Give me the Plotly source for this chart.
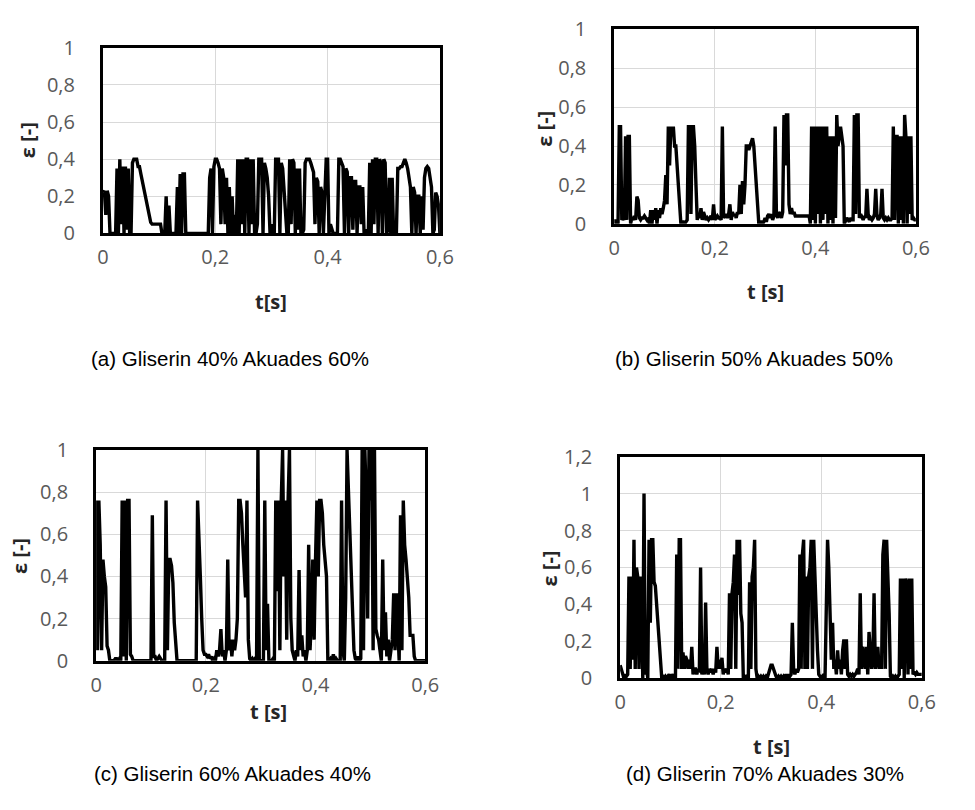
import plotly.graph_objects as go

# ---------------- data (sampling step 0.0025 s, t = 0 ... 0.6 s) ----------------
DT = 0.0025

eps_a = [
    0.22, 0.23, 0.10, 0.23, 0.20, 0.0, 0.0, 0.0, 0.0, 0.0,
    0.35, 0.0, 0.40, 0.05, 0.36, 0.0, 0.36, 0.02, 0.35, 0.0,
    0.0, 0.38, 0.40, 0.40, 0.40, 0.36, 0.36, 0.32, 0.28, 0.24,
    0.20, 0.16, 0.12, 0.09, 0.06, 0.05, 0.05, 0.05, 0.05, 0.05,
    0.05, 0.05, 0.0, 0.0, 0.0, 0.20, 0.0, 0.15, 0.0, 0.0,
    0.0, 0.0, 0.0, 0.25, 0.0, 0.32, 0.0, 0.32, 0.32, 0.0,
    0.0, 0.0, 0.0, 0.0, 0.0, 0.0, 0.0, 0.0, 0.0, 0.0,
    0.0, 0.0, 0.0, 0.0, 0.0, 0.0, 0.30, 0.35, 0.0, 0.36,
    0.40, 0.40, 0.38, 0.35, 0.05, 0.35, 0.30, 0.05, 0.30, 0.0,
    0.25, 0.0, 0.20, 0.0, 0.10, 0.0, 0.40, 0.0, 0.40, 0.05,
    0.40, 0.0, 0.40, 0.40, 0.0, 0.40, 0.05, 0.40, 0.0, 0.0,
    0.05, 0.40, 0.40, 0.40, 0.0, 0.38, 0.35, 0.30, 0.20, 0.0,
    0.0, 0.05, 0.0, 0.40, 0.40, 0.40, 0.0, 0.38, 0.35, 0.25,
    0.10, 0.0, 0.0, 0.40, 0.05, 0.40, 0.38, 0.0, 0.35, 0.02,
    0.35, 0.0, 0.0, 0.02, 0.38, 0.40, 0.40, 0.40, 0.38, 0.36,
    0.33, 0.05, 0.30, 0.28, 0.0, 0.25, 0.22, 0.0, 0.20, 0.40,
    0.40, 0.0, 0.05, 0.02, 0.0, 0.0, 0.0, 0.0, 0.40, 0.40,
    0.38, 0.36, 0.0, 0.35, 0.33, 0.0, 0.30, 0.30, 0.02, 0.28,
    0.28, 0.0, 0.25, 0.25, 0.05, 0.25, 0.0, 0.02, 0.0, 0.0,
    0.38, 0.0, 0.40, 0.05, 0.40, 0.40, 0.0, 0.40, 0.38, 0.0,
    0.40, 0.38, 0.0, 0.02, 0.30, 0.0, 0.30, 0.0, 0.05, 0.0,
    0.35, 0.35, 0.36, 0.36, 0.38, 0.40, 0.38, 0.35, 0.30, 0.25,
    0.0, 0.25, 0.22, 0.0, 0.20, 0.20, 0.0, 0.20, 0.02, 0.30,
    0.35, 0.36, 0.35, 0.30, 0.25, 0.0, 0.02, 0.22, 0.20, 0.15,
    0.0,
]

eps_b = [
    0.0, 0.02, 0.01, 0.0, 0.50, 0.50, 0.02, 0.03, 0.02, 0.45,
    0.02, 0.45, 0.45, 0.0, 0.03, 0.02, 0.04, 0.02, 0.14, 0.12,
    0.03, 0.02, 0.03, 0.03, 0.04, 0.03, 0.02, 0.03, 0.0, 0.07,
    0.0, 0.07, 0.02, 0.08, 0.0, 0.07, 0.03, 0.08, 0.05, 0.08,
    0.12, 0.25, 0.10, 0.50, 0.30, 0.50, 0.45, 0.50, 0.40, 0.40,
    0.30, 0.20, 0.10, 0.0, 0.01, 0.01, 0.0, 0.01, 0.02, 0.50,
    0.50, 0.05, 0.50, 0.50, 0.40, 0.20, 0.02, 0.05, 0.03, 0.08,
    0.02, 0.06, 0.03, 0.02, 0.03, 0.02, 0.03, 0.04, 0.02, 0.10,
    0.02, 0.03, 0.04, 0.03, 0.03, 0.02, 0.50, 0.03, 0.04, 0.05,
    0.03, 0.05, 0.10, 0.02, 0.06, 0.04, 0.05, 0.03, 0.06, 0.05,
    0.20, 0.05, 0.22, 0.10, 0.20, 0.40, 0.40, 0.38, 0.40, 0.42,
    0.44, 0.40, 0.30, 0.15, 0.05, 0.0, 0.01, 0.01, 0.0, 0.01,
    0.03, 0.01, 0.04, 0.05, 0.03, 0.05, 0.02, 0.04, 0.50, 0.05,
    0.03, 0.06, 0.05, 0.03, 0.06, 0.56, 0.30, 0.56, 0.56, 0.10,
    0.05, 0.08, 0.05, 0.06, 0.04, 0.04, 0.04, 0.04, 0.04, 0.04,
    0.04, 0.04, 0.04, 0.04, 0.04, 0.04, 0.0, 0.50, 0.02, 0.50,
    0.0, 0.50, 0.05, 0.50, 0.0, 0.50, 0.02, 0.50, 0.05, 0.50,
    0.0, 0.45, 0.02, 0.45, 0.0, 0.45, 0.03, 0.56, 0.40, 0.45,
    0.50, 0.45, 0.40, 0.0, 0.02, 0.03, 0.02, 0.01, 0.03, 0.02,
    0.02, 0.56, 0.05, 0.56, 0.56, 0.03, 0.05, 0.03, 0.02, 0.04,
    0.03, 0.18, 0.05, 0.02, 0.03, 0.02, 0.03, 0.05, 0.18, 0.04,
    0.02, 0.03, 0.05, 0.18, 0.03, 0.02, 0.03, 0.02, 0.03, 0.02,
    0.02, 0.03, 0.50, 0.02, 0.45, 0.45, 0.0, 0.45, 0.02, 0.45,
    0.0, 0.56, 0.45, 0.0, 0.45, 0.05, 0.45, 0.02, 0.03, 0.02,
    0.02,
]

eps_c = [
    0.76, 0.05, 0.76, 0.55, 0.05, 0.48, 0.40, 0.35, 0.07, 0.05,
    0.0, 0.0, 0.0, 0.0, 0.01, 0.01, 0.0, 0.01, 0.0, 0.76,
    0.02, 0.76, 0.0, 0.76, 0.76, 0.03, 0.02, 0.0, 0.0, 0.0,
    0.0, 0.0, 0.0, 0.0, 0.0, 0.0, 0.0, 0.0, 0.0, 0.0,
    0.0, 0.69, 0.02, 0.02, 0.0, 0.01, 0.02, 0.01, 0.0, 0.0,
    0.0, 0.76, 0.05, 0.48, 0.48, 0.45, 0.37, 0.18, 0.10, 0.0,
    0.0, 0.0, 0.0, 0.0, 0.0, 0.0, 0.0, 0.0, 0.0, 0.0,
    0.0, 0.0, 0.0, 0.0, 0.76, 0.50, 0.40, 0.20, 0.05, 0.03,
    0.03, 0.02, 0.03, 0.01, 0.02, 0.0, 0.01, 0.0, 0.05, 0.02,
    0.05, 0.15, 0.02, 0.05, 0.0, 0.05, 0.48, 0.05, 0.10, 0.02,
    0.10, 0.05, 0.10, 0.20, 0.76, 0.76, 0.70, 0.55, 0.45, 0.30,
    0.76, 0.10, 0.01, 0.0, 0.01, 0.0, 0.01, 0.0, 1.0, 0.0,
    0.0, 0.0, 0.0, 0.76, 0.05, 0.27, 0.0, 0.0, 0.0, 0.01,
    0.0, 0.76, 0.33, 0.76, 0.05, 0.76, 1.0, 0.40, 0.76, 0.10,
    0.76, 1.0, 0.20, 0.05, 0.02, 0.0, 0.05, 0.02, 0.43, 0.05,
    0.12, 0.02, 0.05, 0.0, 0.05, 0.55, 0.05, 0.20, 0.48, 0.10,
    0.48, 0.76, 0.40, 0.76, 0.76, 0.70, 0.55, 0.45, 0.40, 0.0,
    0.0, 0.01, 0.0, 0.03, 0.0, 0.01, 0.0, 0.0, 0.0, 0.76,
    0.05, 0.0, 0.30, 1.0, 0.80, 0.60, 0.40, 0.20, 0.05, 0.01,
    0.0, 0.02, 0.0, 0.01, 1.0, 0.05, 1.0, 0.76, 0.20, 1.0,
    0.76, 1.0, 0.05, 1.0, 0.15, 0.12, 0.10, 0.05, 0.0, 0.48,
    0.05, 0.23, 0.02, 0.10, 0.0, 0.05, 0.10, 0.32, 0.05, 0.32,
    0.10, 0.0, 0.69, 0.05, 0.76, 0.55, 0.48, 0.40, 0.30, 0.12,
    0.12, 0.12, 0.02, 0.0, 0.0, 0.0, 0.0, 0.0, 0.0, 0.0,
    0.0,
]

eps_d = [
    0.07, 0.05, 0.02, 0.0, 0.02, 0.01, 0.02, 0.55, 0.05, 0.55,
    0.10, 0.75, 0.05, 0.60, 0.55, 0.05, 0.55, 0.42, 0.0, 1.0,
    0.02, 0.05, 0.0, 0.75, 0.30, 0.75, 0.75, 0.52, 0.50, 0.40,
    0.30, 0.20, 0.05, 0.01, 0.01, 0.0, 0.01, 0.0, 0.01, 0.02,
    0.0, 0.01, 0.02, 0.0, 0.0, 0.67, 0.05, 0.75, 0.75, 0.05,
    0.14, 0.05, 0.12, 0.10, 0.05, 0.10, 0.05, 0.17, 0.02, 0.05,
    0.05, 0.02, 0.05, 0.03, 0.60, 0.02, 0.05, 0.02, 0.41, 0.05,
    0.02, 0.05, 0.03, 0.05, 0.02, 0.05, 0.03, 0.17, 0.05, 0.10,
    0.05, 0.11, 0.02, 0.05, 0.03, 0.05, 0.02, 0.46, 0.05, 0.46,
    0.52, 0.67, 0.05, 0.75, 0.45, 0.75, 0.35, 0.30, 0.0, 0.01,
    0.0, 0.01, 0.0, 0.52, 0.05, 0.55, 0.60, 0.75, 0.05, 0.0,
    0.01, 0.0, 0.01, 0.0, 0.01, 0.0, 0.01, 0.0, 0.02, 0.05,
    0.07, 0.07, 0.05, 0.02, 0.01, 0.0, 0.01, 0.0, 0.01, 0.0,
    0.01, 0.0, 0.02, 0.0, 0.02, 0.01, 0.02, 0.30, 0.05, 0.02,
    0.05, 0.03, 0.05, 0.67, 0.05, 0.67, 0.75, 0.05, 0.55, 0.05,
    0.55, 0.60, 0.75, 0.05, 0.75, 0.55, 0.30, 0.15, 0.02, 0.01,
    0.0, 0.01, 0.02, 0.0, 0.50, 0.75, 0.60, 0.30, 0.10, 0.30,
    0.05, 0.10, 0.02, 0.15, 0.05, 0.10, 0.02, 0.15, 0.21, 0.05,
    0.21, 0.02, 0.01, 0.02, 0.01, 0.02, 0.01, 0.02, 0.03, 0.05,
    0.02, 0.46, 0.05, 0.17, 0.10, 0.05, 0.17, 0.02, 0.25, 0.10,
    0.05, 0.10, 0.46, 0.05, 0.10, 0.17, 0.05, 0.10, 0.05, 0.67,
    0.75, 0.05, 0.75, 0.55, 0.35, 0.01, 0.0, 0.01, 0.0, 0.01,
    0.0, 0.01, 0.02, 0.54, 0.05, 0.54, 0.0, 0.54, 0.50, 0.02,
    0.54, 0.05, 0.54, 0.02, 0.03, 0.02, 0.03, 0.02, 0.02, 0.02,
    0.02,
]

x_ticks = [0, 0.2, 0.4, 0.6]
x_ticktext = ["0", "0,2", "0,4", "0,6"]
y_ticks = [0, 0.2, 0.4, 0.6, 0.8, 1.0]
y_ticktext = ["0", "0,2", "0,4", "0,6", "0,8", "1"]
y_ticks_d = [0, 0.2, 0.4, 0.6, 0.8, 1.0, 1.2]
y_ticktext_d = ["0", "0,2", "0,4", "0,6", "0,8", "1", "1,2"]

captions = [
    "(a) Gliserin 40% Akuades 60%",
    "(b) Gliserin 50% Akuades 50%",
    "(c) Gliserin 60% Akuades 40%",
    "(d) Gliserin 70% Akuades 30%",
]
x_titles = ["t[s]", "t [s]", "t [s]", "t [s]"]
y_title = "ε [-]"

# ---------------- layout geometry (pixels) ----------------
W, H = 975, 810
# plot boxes: left, right, top, bottom (px)
boxes = [
    (99, 443, 35, 227),
    (621, 929, 16, 217),
    (92, 428, 451, 669),
    (627, 935, 458, 687),
]
ymax = [1.0, 1.0, 1.0, 1.2]
series = [eps_a, eps_b, eps_c, eps_d]
xt_pos = [(271, 297), (775, 287), (268, 722), (782, 758)]
yt_pos = [(22, 131), (549, 119), (14, 561), (555, 574)]
cap_pos = [(229, 356), (764, 356), (231, 786), (775, 786)]

TICK_FONT = dict(family="Open Sans", size=20, color="#595959")
TITLE_FONT = dict(family="Open Sans", size=20, color="#262626")
CAP_FONT = dict(family="Liberation Sans, Arial", size=20.5, color="#000000")

fig = go.Figure()
layout = dict(
    width=W, height=H,
    margin=dict(l=0, r=0, t=0, b=0),
    paper_bgcolor="white", plot_bgcolor="white",
    showlegend=False,
)

annotations = []
for k in range(4):
    n = "" if k == 0 else str(k + 1)
    L, R, T, B = boxes[k]
    vals = series[k]
    tt = [round(i * DT, 4) for i in range(len(vals))]
    fig.add_trace(go.Scatter(
        x=tt, y=vals, mode="lines",
        line=dict(color="black", width=3.4),
        xaxis="x" + n, yaxis="y" + n,
        hoverinfo="skip",
    ))
    layout["xaxis" + n] = dict(
        domain=[L / W, R / W], anchor="y" + n,
        range=[0, 0.6], tickvals=x_ticks, ticktext=x_ticktext,
        showgrid=True, gridcolor="#d9d9d9", gridwidth=1.2,
        zeroline=False, showline=True, mirror=True,
        linecolor="black", linewidth=3,
        ticks="", ticklabelstandoff=4,
        tickfont=TICK_FONT,
    )
    yt = y_ticks_d if k == 3 else y_ticks
    ytt = y_ticktext_d if k == 3 else y_ticktext
    layout["yaxis" + n] = dict(
        domain=[1 - B / H, 1 - T / H], anchor="x" + n,
        range=[0, ymax[k]], tickvals=yt, ticktext=ytt,
        showgrid=True, gridcolor="#d9d9d9", gridwidth=1.2,
        zeroline=False, showline=True, mirror=True,
        linecolor="black", linewidth=3,
        ticks="", ticklabelstandoff=21,
        tickfont=TICK_FONT,
    )
    xx, yy = xt_pos[k]
    annotations.append(dict(
        x=xx / W, y=1 - yy / H, xref="paper", yref="paper",
        text="<b>%s</b>" % x_titles[k], showarrow=False,
        xanchor="center", yanchor="middle", font=TITLE_FONT,
    ))
    xx, yy = yt_pos[k]
    annotations.append(dict(
        x=xx / W, y=1 - yy / H, xref="paper", yref="paper",
        text="<b>%s</b>" % y_title, showarrow=False, textangle=-90,
        xanchor="center", yanchor="middle", font=TITLE_FONT,
    ))
    xx, yy = cap_pos[k]
    annotations.append(dict(
        x=xx / W, y=1 - yy / H, xref="paper", yref="paper",
        text=captions[k], showarrow=False,
        xanchor="center", yanchor="middle", font=CAP_FONT,
    ))

layout["annotations"] = annotations
fig.update_layout(**layout)
fig.write_html("out.html")
